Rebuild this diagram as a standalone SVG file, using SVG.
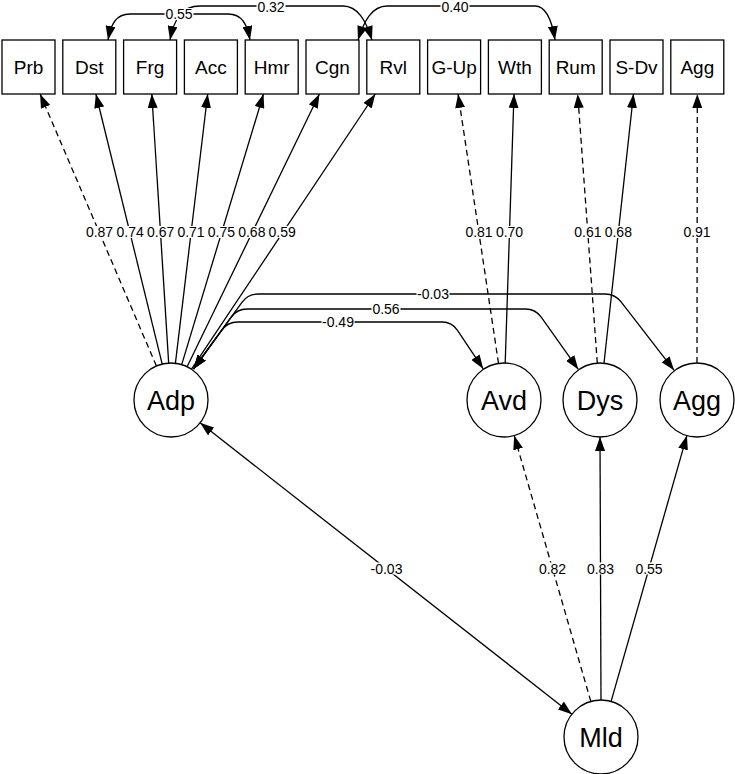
<svg xmlns="http://www.w3.org/2000/svg" width="735" height="774" viewBox="0 0 735 774">
<style>
.box{fill:#fff;stroke:#000;stroke-width:1.3}
.lat{fill:#fff;stroke:#000;stroke-width:1.3}
.bt{font-family:"Liberation Sans",Arial,sans-serif;font-size:19px;text-anchor:middle;fill:#000}
.lt{font-family:"Liberation Sans",Arial,sans-serif;font-size:27px;text-anchor:middle;fill:#000}
.e{fill:none;stroke:#000;stroke-width:1.3}
.d{stroke-dasharray:6,4}
.el{font-family:"Liberation Sans",Arial,sans-serif;font-size:14px;text-anchor:middle;fill:#000}
.bg{fill:#fff}
</style>
<defs>
<marker id="ah" viewBox="0 0 14 10" refX="14" refY="5" markerWidth="14" markerHeight="10" markerUnits="userSpaceOnUse" orient="auto-start-reverse">
<path d="M0,0 L14,5 L0,10 z" fill="#000"/>
</marker>
</defs>
<rect width="735" height="774" fill="#fff"/>

<g id="connectors">
<!-- Adp indicators -->
<path class="e d" d="M156.4,366.0 L40.1,94" marker-end="url(#ah)"/>
<path class="e" d="M162.2,364.1 L95.9,94" marker-end="url(#ah)"/>
<path class="e" d="M168.7,363.1 L151.8,94" marker-end="url(#ah)"/>
<path class="e" d="M175.4,363.3 L207.7,94" marker-end="url(#ah)"/>
<path class="e" d="M181.7,364.6 L263.5,94" marker-end="url(#ah)"/>
<path class="e" d="M187.1,366.7 L319.4,94" marker-end="url(#ah)"/>
<path class="e" d="M191.5,369.2 L375.3,94" marker-end="url(#ah)"/>
<!-- Avd indicators -->
<path class="e d" d="M498.5,363.4 L458.1,94" marker-end="url(#ah)"/>
<path class="e" d="M505.2,363.0 L514.0,94" marker-end="url(#ah)"/>
<!-- Dys indicators -->
<path class="e d" d="M597.3,363.1 L577.7,94" marker-end="url(#ah)"/>
<path class="e" d="M604.0,363.2 L633.5,94" marker-end="url(#ah)"/>
<!-- Agg indicator -->
<path class="e d" d="M697,363 L697.3,94" marker-end="url(#ah)"/>
<!-- Mld paths -->
<path class="e d" d="M590.8,701.4 L514.2,435.6" marker-end="url(#ah)"/>
<path class="e" d="M601,700 L600,437" marker-end="url(#ah)"/>
<path class="e" d="M611.1,701.4 L686.9,435.6" marker-end="url(#ah)"/>
<path class="e" d="M200.1,422.8 L571.9,714.2" marker-start="url(#ah)" marker-end="url(#ah)"/>
<!-- Adp covariances -->
<path class="e" d="M193.5,369 L221.8,330.1 Q227.7,322 237.7,322 L442,322 Q452,322 457.5,330.3 L483.2,368.8" marker-start="url(#ah)" marker-end="url(#ah)"/>
<path class="e" d="M193.5,369 L231.2,317.1 Q237.1,309 247.1,309 L525.4,309 Q535.4,309 541.2,317.2 L578.3,369.4" marker-start="url(#ah)" marker-end="url(#ah)"/>
<path class="e" d="M193.5,369 L242.1,302.1 Q248,294 258,294 L605,294 Q615,294 621.1,301.9 L674.1,370.3" marker-start="url(#ah)" marker-end="url(#ah)"/>
<!-- residual covariances among indicators -->
<path class="e" d="M108,40 C111,24 116,14 130,14 L228,14 C242,14 247,24 250,40" marker-start="url(#ah)" marker-end="url(#ah)"/>
<path class="e" d="M170,40 C174,19 182,6 200,6 L343,6 C358,6 366,21 372,40" marker-start="url(#ah)" marker-end="url(#ah)"/>
<path class="e" d="M358,40 C364,21 372,6 387,6 L535,6 C546,6 552,21 555,40" marker-start="url(#ah)" marker-end="url(#ah)"/>

<!-- labels -->
<g>
<rect class="bg" x="85" y="226" width="29" height="12"/><text class="el" x="99.5" y="237">0.87</text>
<rect class="bg" x="116" y="226" width="29" height="12"/><text class="el" x="130.2" y="237">0.74</text>
<rect class="bg" x="146" y="226" width="29" height="12"/><text class="el" x="160.6" y="237">0.67</text>
<rect class="bg" x="176.5" y="226" width="29" height="12"/><text class="el" x="191" y="237">0.71</text>
<rect class="bg" x="207" y="226" width="29" height="12"/><text class="el" x="221.4" y="237">0.75</text>
<rect class="bg" x="237.5" y="226" width="29" height="12"/><text class="el" x="251.8" y="237">0.68</text>
<rect class="bg" x="268" y="226" width="29" height="12"/><text class="el" x="282.2" y="237">0.59</text>
<rect class="bg" x="464.5" y="226" width="29" height="12"/><text class="el" x="479" y="237">0.81</text>
<rect class="bg" x="495" y="226" width="29" height="12"/><text class="el" x="509.5" y="237">0.70</text>
<rect class="bg" x="573.5" y="226" width="29" height="12"/><text class="el" x="587.9" y="237">0.61</text>
<rect class="bg" x="604" y="226" width="29" height="12"/><text class="el" x="618.3" y="237">0.68</text>
<rect class="bg" x="682.5" y="226" width="29" height="12"/><text class="el" x="697" y="237">0.91</text>
<rect class="bg" x="370" y="562.5" width="33" height="12"/><text class="el" x="386.5" y="573.5">-0.03</text>
<rect class="bg" x="538" y="562.5" width="29" height="12"/><text class="el" x="552.5" y="573.5">0.82</text>
<rect class="bg" x="586" y="562.5" width="29" height="12"/><text class="el" x="600.5" y="573.5">0.83</text>
<rect class="bg" x="634.5" y="562.5" width="29" height="12"/><text class="el" x="649" y="573.5">0.55</text>
<rect class="bg" x="321.5" y="316" width="33" height="12"/><text class="el" x="338" y="327">-0.49</text>
<rect class="bg" x="371.5" y="303" width="29" height="12"/><text class="el" x="386" y="314">0.56</text>
<rect class="bg" x="416.5" y="288" width="33" height="12"/><text class="el" x="433" y="299">-0.03</text>
<rect class="bg" x="164.5" y="8" width="29" height="12"/><text class="el" x="179" y="19">0.55</text>
<rect class="bg" x="256.5" y="0.5" width="29" height="11.5"/><text class="el" x="271" y="11.5">0.32</text>
<rect class="bg" x="440.5" y="0.5" width="29" height="11.5"/><text class="el" x="455" y="11.5">0.40</text>
</g>
</g>

<g id="Prb"><rect class="box" x="2" y="40" width="53" height="54"/><text class="bt" x="28.5" y="74">Prb</text></g>
<g id="Dst"><rect class="box" x="62.8" y="40" width="53" height="54"/><text class="bt" x="89.3" y="74">Dst</text></g>
<g id="Frg"><rect class="box" x="123.6" y="40" width="53" height="54"/><text class="bt" x="150.1" y="74">Frg</text></g>
<g id="Acc"><rect class="box" x="184.4" y="40" width="53" height="54"/><text class="bt" x="210.9" y="74">Acc</text></g>
<g id="Hmr"><rect class="box" x="245.2" y="40" width="53" height="54"/><text class="bt" x="271.7" y="74">Hmr</text></g>
<g id="Cgn"><rect class="box" x="306" y="40" width="53" height="54"/><text class="bt" x="332.5" y="74">Cgn</text></g>
<g id="Rvl"><rect class="box" x="366.8" y="40" width="53" height="54"/><text class="bt" x="393.3" y="74">Rvl</text></g>
<g id="G-Up"><rect class="box" x="427.6" y="40" width="53" height="54"/><text class="bt" x="454.1" y="74">G-Up</text></g>
<g id="Wth"><rect class="box" x="488.4" y="40" width="53" height="54"/><text class="bt" x="514.9" y="74">Wth</text></g>
<g id="Rum"><rect class="box" x="549.2" y="40" width="53" height="54"/><text class="bt" x="575.7" y="74">Rum</text></g>
<g id="S-Dv"><rect class="box" x="610" y="40" width="53" height="54"/><text class="bt" x="636.5" y="74">S-Dv</text></g>
<g id="Agg-ind"><rect class="box" x="670.8" y="40" width="53" height="54"/><text class="bt" x="697.3" y="74">Agg</text></g>

<g id="Adp"><circle class="lat" cx="171" cy="400" r="37"/><text class="lt" x="171" y="409.5">Adp</text></g>
<g id="Avd"><circle class="lat" cx="504" cy="400" r="37"/><text class="lt" x="504" y="409.5">Avd</text></g>
<g id="Dys"><circle class="lat" cx="600" cy="400" r="37"/><text class="lt" x="600" y="409.5">Dys</text></g>
<g id="Agg"><circle class="lat" cx="697" cy="400" r="37"/><text class="lt" x="697" y="409.5">Agg</text></g>
<g id="Mld"><circle class="lat" cx="601" cy="737" r="37"/><text class="lt" x="601" y="746.5">Mld</text></g>
</svg>
